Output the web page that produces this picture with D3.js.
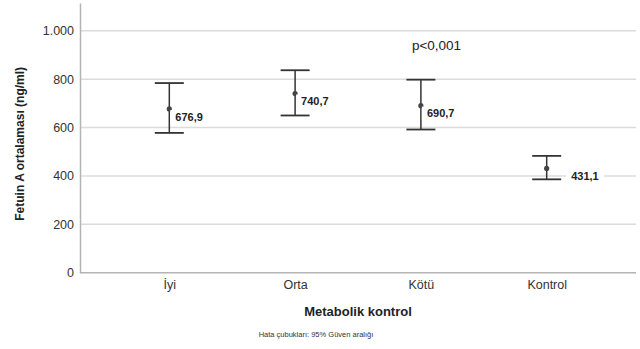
<!DOCTYPE html>
<html>
<head>
<meta charset="utf-8">
<script src="https://cdn.jsdelivr.net/npm/d3@7"></script>
<style>
  body { margin: 0; background: #fff; }
  text { font-family: "Liberation Sans", Arial, sans-serif; }
</style>
</head>
<body>
<div id="chart"></div>
<script>
const groups = ['İyi', 'Orta', 'Kötü', 'Kontrol'];
const means = [676.9, 740.7, 690.7, 431.1];
const upper = [784, 837, 798, 483];
const lower = [578, 650, 592, 386];
const yTicks = [0, 200, 400, 600, 800, 1000];
const pText = 'p<0,001';

const width = 640, height = 349;
const margin = { left: 80, right: 4, top: 3, bottom: 77 };
const capHalf = 14.5;

const locale = d3.formatLocale({ decimal: ',', thousands: '.', grouping: [3], currency: ['', ''] });
const fmtTick = locale.format(',');
const fmtVal = locale.format('.1f');

const svg = d3.select('#chart')
    .append('svg')
    .attr('width', width)
    .attr('height', height);

const x = d3.scalePoint()
    .domain(groups)
    .range([margin.left, width - margin.right])
    .padding(0.71);

const y = d3.scaleLinear()
    .domain([0, 1115])
    .range([height - margin.bottom + 0.7, margin.top]);

// grid
svg.append('g')
    .selectAll('line')
    .data(yTicks.filter(d => d > 0))
    .enter().append('line')
    .attr('x1', margin.left)
    .attr('x2', width - margin.right)
    .attr('y1', d => y(d))
    .attr('y2', d => y(d))
    .attr('stroke', '#dcdcdc')
    .attr('stroke-width', 1.5);

// y axis
const yAxis = svg.append('g')
    .attr('transform', `translate(${margin.left},0)`)
    .call(d3.axisLeft(y).tickValues(yTicks).tickFormat(fmtTick).tickSize(0).tickPadding(6));
yAxis.select('.domain').attr('stroke', '#b4b4b4').attr('stroke-width', 1.5);
yAxis.selectAll('text')
    .attr('font-size', 12.5)
    .attr('fill', '#333');

// x axis
const xAxis = svg.append('g')
    .attr('transform', `translate(0,${y(0)})`)
    .call(d3.axisBottom(x).tickSize(0).tickPadding(7));
xAxis.select('.domain')
    .attr('d', `M${margin.left},0H${width - margin.right}`)
    .attr('stroke', '#b4b4b4').attr('stroke-width', 1.5);
xAxis.selectAll('text')
    .attr('font-size', 12.5)
    .attr('fill', '#333');

// error bars
const bars = svg.append('g')
    .selectAll('g')
    .data(groups)
    .enter().append('g');

bars.append('line')
    .attr('x1', d => x(d)).attr('x2', d => x(d))
    .attr('y1', (d, i) => y(upper[i]))
    .attr('y2', (d, i) => y(lower[i]))
    .attr('stroke', '#333').attr('stroke-width', 1.5);

[upper, lower].forEach(arr => {
    bars.append('line')
        .attr('x1', d => x(d) - capHalf).attr('x2', d => x(d) + capHalf)
        .attr('y1', (d, i) => y(arr[i]))
        .attr('y2', (d, i) => y(arr[i]))
        .attr('stroke', '#333').attr('stroke-width', 1.8);
});

bars.append('circle')
    .attr('cx', d => x(d))
    .attr('cy', (d, i) => y(means[i]))
    .attr('r', 2.6)
    .attr('fill', '#444');

// value labels: move past the cap when they would hit it
const labelX = (d, i) => {
    const ly = y(means[i]) + 8;
    const hitsCap = Math.abs(ly - y(lower[i])) < 7 || Math.abs(ly - y(upper[i])) < 7;
    return x(d) + (hitsCap ? capHalf + 8 : 4);
};

const labels = bars.append('g')
    .attr('transform', (d, i) => `translate(${labelX(d, i)},${y(means[i]) + 8})`);

labels.append('rect')
    .attr('x', -3).attr('y', -7)
    .attr('width', 38).attr('height', 14)
    .attr('fill', '#fff');

labels.append('text')
    .attr('x', 2)
    .attr('dy', '0.35em')
    .attr('font-size', 11)
    .attr('font-weight', 'bold')
    .attr('fill', '#222')
    .text((d, i) => fmtVal(means[i]));

// p value
svg.append('text')
    .attr('x', x('Kötü') - 9)
    .attr('y', y(920))
    .attr('font-size', 13.5)
    .attr('fill', '#222')
    .text(pText);

// titles
svg.append('text')
    .attr('transform', `translate(24,${(y(0) + margin.top) / 2 + 6}) rotate(-90)`)
    .attr('text-anchor', 'middle')
    .attr('font-size', 12)
    .attr('font-weight', 'bold')
    .attr('fill', '#222')
    .text('Fetuin A ortalaması (ng/ml)');

svg.append('text')
    .attr('x', (margin.left + width - margin.right) / 2)
    .attr('y', 316)
    .attr('text-anchor', 'middle')
    .attr('font-size', 13)
    .attr('font-weight', 'bold')
    .attr('fill', '#222')
    .text('Metabolik kontrol');

svg.append('text')
    .attr('x', 316)
    .attr('y', 337)
    .attr('text-anchor', 'middle')
    .attr('font-size', 7.5)
    .attr('fill', '#333')
    .text('Hata çubukları: 95% Güven aralığı');
</script>
</body>
</html>
